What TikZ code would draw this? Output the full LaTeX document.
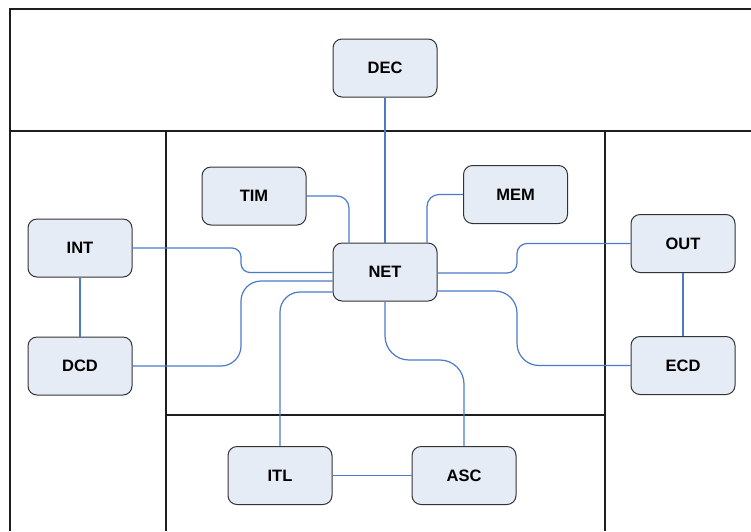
\documentclass[tikz,border=0pt]{standalone}
\usepackage{fontspec}
\setmainfont{Liberation Sans}
\definecolor{nodefill}{RGB}{230,236,246}
\definecolor{wireblue}{RGB}{74,122,200}
\definecolor{framegray}{RGB}{30,30,30}
\begin{document}
\begin{tikzpicture}[x=1pt,y=-1pt,
  blk/.style={draw=black!80, fill=nodefill, rounded corners=9pt, line width=1pt,
    minimum width=104pt, minimum height=58pt, inner sep=0pt,
    font=\fontsize{16.5}{18}\selectfont\bfseries},
  frame/.style={line width=1.5pt, draw=framegray},
  wire/.style={draw=wireblue, line width=1.2pt}]
\useasboundingbox (0,0) rectangle (751,531);
% frames
\draw[frame] (751,9) -- (10,9) -- (10,531);
\draw[frame] (10,131) -- (751,131);
\draw[frame] (166,131) -- (166,531);
\draw[frame] (605,131) -- (605,531);
\draw[frame] (166,415) -- (605,415);
% nodes
\node[blk] (DEC) at (385,68) {DEC};
\node[blk] (TIM) at (254,196) {TIM};
\node[blk] (NET) at (385,272) {NET};
\node[blk] (MEM) at (515.5,194.5) {MEM};
\node[blk] (INT) at (80,248) {INT};
\node[blk] (DCD) at (80,366) {DCD};
\node[blk] (OUT) at (683,243.5) {OUT};
\node[blk] (ECD) at (683,365.5) {ECD};
\node[blk] (ITL) at (280,475.5) {ITL};
\node[blk] (ASC) at (464,475.5) {ASC};
% connectors
\draw[wire] (DEC.south) -- (NET.north);
\draw[wire] (INT.south) -- (DCD.north);
\draw[wire] (OUT.south) -- (ECD.north);
\draw[wire] (ITL.east) -- (ASC.west);
\draw[wire, rounded corners=12pt] (TIM.east) -| ([xshift=-36pt]NET.north);
\draw[wire, rounded corners=12pt] (MEM.west) -| ([xshift=42pt]NET.north);
\draw[wire, rounded corners=9pt] (INT.east) -- (241,248) -- (241,272.5) -- ([yshift=-0.5pt]NET.west);
\draw[wire, rounded corners=20pt] (DCD.east) -- (241,366) -- (241,281) -- ([yshift=-9pt]NET.west);
\draw[wire, rounded corners=20pt] (ITL.north) |- ([yshift=-20pt]NET.west);
\draw[wire, rounded corners=24pt] (NET.south) -- (385,360) -- (464,360) -- (ASC.north);
\draw[wire, rounded corners=10pt] (OUT.west) -- (517,243.5) -- (517,273) -- ([yshift=-1pt]NET.east);
\draw[wire, rounded corners=22pt] (ECD.west) -- (517,365.5) -- (517,291) -- ([yshift=-19pt]NET.east);
\end{tikzpicture}
\end{document}
